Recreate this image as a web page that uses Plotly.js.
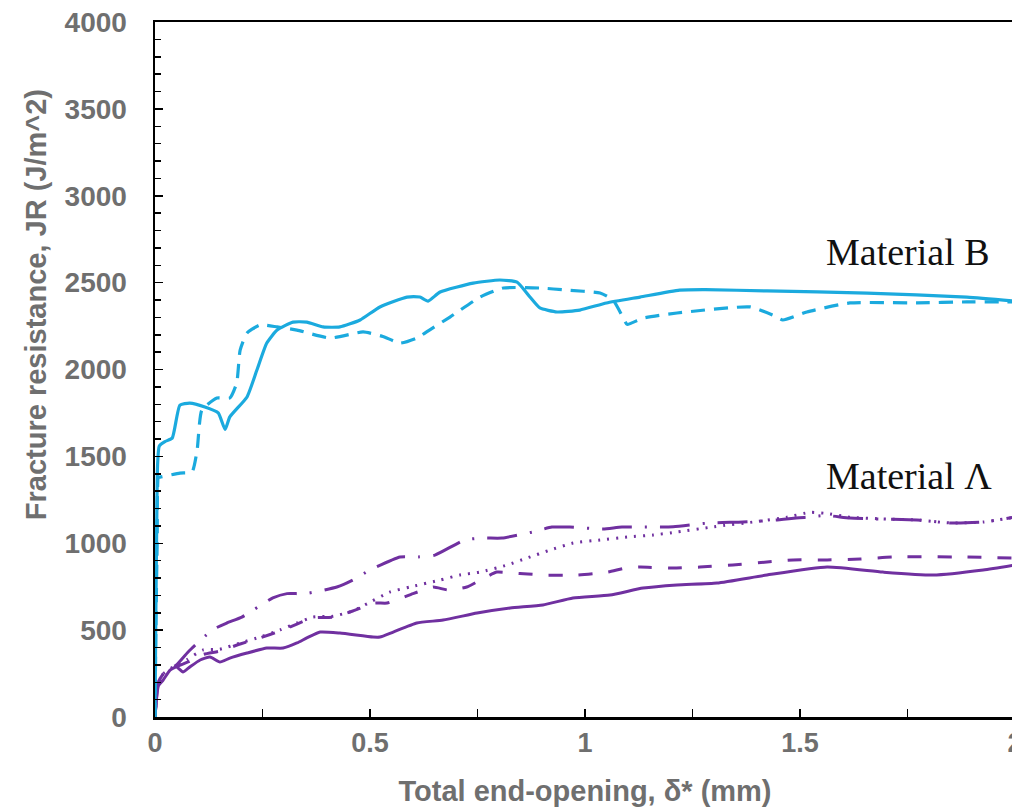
<!DOCTYPE html>
<html>
<head>
<meta charset="utf-8">
<script src="https://cdn.plot.ly/plotly-3.0.1.min.js"></script>
<style>
html,body{margin:0;padding:0;overflow:hidden;background:#fff;}
#chart{width:1040px;height:807px;}
</style>
</head>
<body>
<div id="chart"></div>
<script>
// Material B, solid
const bSolidX = [0,0.002,0.004,0.006,0.01,0.023,0.04,0.058,0.081,0.116,0.147,0.163,0.174,0.214,0.237,0.26,0.284,0.321,0.353,0.391,0.43,0.477,0.523,0.586,0.616,0.635,0.663,0.74,0.802,0.842,0.872,0.895,0.935,0.988,1.05,1.128,1.22,1.28,1.423,1.656,1.888,2.0];
const bSolidY = [0,600,1100,1450,1560,1585,1605,1795,1807,1784,1750,1655,1727,1842,1997,2152,2227,2273,2273,2245,2245,2285,2360,2417,2417,2394,2446,2497,2515,2503,2417,2354,2331,2342,2383,2417,2457,2460,2452,2440,2417,2394];
// Material B, dashed
const bDashX = [0,0.002,0.005,0.008,0.012,0.058,0.086,0.098,0.109,0.144,0.174,0.19,0.198,0.214,0.244,0.284,0.33,0.407,0.484,0.53,0.57,0.609,0.64,0.686,0.756,0.81,0.895,0.958,1.035,1.065,1.088,1.098,1.135,1.214,1.384,1.437,1.46,1.516,1.616,1.772,1.888,2.0];
const bDashY = [0,500,1000,1380,1381,1404,1410,1537,1767,1836,1836,1922,2112,2210,2256,2245,2227,2181,2216,2190,2152,2181,2230,2302,2417,2469,2469,2457,2440,2400,2302,2260,2296,2325,2360,2313,2285,2331,2383,2383,2389,2389];
// Material A, solid
const aSolidX = [0,0.008,0.019,0.035,0.05,0.065,0.081,0.105,0.128,0.151,0.174,0.214,0.26,0.298,0.33,0.353,0.384,0.43,0.507,0.523,0.554,0.609,0.67,0.749,0.826,0.902,0.972,1.058,1.135,1.214,1.307,1.423,1.563,1.693,1.809,1.926,2.0];
const aSolidY = [0,180,213,270,288,259,288,328,345,316,339,368,397,397,426,455,489,483,460,460,489,541,558,598,627,645,685,702,742,760,771,817,863,834,817,846,875];
// Material A, dashed
const aDashX = [0,0.008,0.02,0.05,0.08,0.112,0.151,0.198,0.244,0.291,0.33,0.367,0.414,0.46,0.51,0.54,0.6,0.647,0.681,0.725,0.756,0.795,0.83,0.867,0.902,0.981,1.053,1.093,1.128,1.205,1.267,1.344,1.423,1.484,1.563,1.64,1.716,1.872,2.0];
const aDashY = [0,200,250,290,320,360,380,420,455,495,535,570,575,610,656,656,710,748,731,748,788,834,829,823,817,817,834,857,863,857,863,875,892,904,904,909,921,921,915];
// Material A, dotted
const aDotX = [0,0.008,0.02,0.05,0.074,0.112,0.151,0.198,0.244,0.291,0.33,0.367,0.414,0.46,0.488,0.547,0.593,0.663,0.709,0.756,0.819,0.865,0.919,0.972,1.035,1.098,1.158,1.214,1.3,1.4,1.47,1.523,1.56,1.616,1.693,1.772,1.849,1.926,2.0];
const aDotY = [0,200,250,300,330,386,390,426,460,501,541,575,580,610,645,720,748,788,817,834,875,915,961,1001,1019,1036,1047,1065,1095,1125,1150,1178,1172,1150,1140,1134,1117,1122,1150];
// Material A, dash-dot
const aDashDotX = [0,0.008,0.02,0.05,0.077,0.133,0.167,0.202,0.274,0.307,0.349,0.423,0.46,0.5,0.57,0.612,0.651,0.72,0.763,0.807,0.879,0.923,0.965,1.042,1.086,1.205,1.29,1.367,1.447,1.516,1.56,1.616,1.693,1.772,1.849,1.926,2.0];
const aDashDotY = [0,200,250,300,374,501,541,575,685,710,710,748,788,846,921,921,932,1019,1030,1030,1065,1093,1093,1082,1093,1095,1117,1122,1134,1151,1160,1145,1139,1134,1117,1122,1151];

const xTickVals = [0,0.5,1,1.5,2];
const xTickText = ['0','0.5','1','1.5','2'];
const yTickVals = [0,500,1000,1500,2000,2500,3000,3500,4000];
const yTickText = ['0','500','1000','1500','2000','2500','3000','3500','4000'];
const labels = ['Material B','Material Λ'];

const cyan = 'rgb(27,170,222)';
const purple = 'rgb(112,48,160)';

const traces = [
  {x:aSolidX, y:aSolidY, mode:'lines', line:{color:purple, width:3, shape:'spline', smoothing:0.5}},
  {x:aDashX, y:aDashY, mode:'lines', line:{color:purple, width:3, dash:'14px,16px', shape:'spline', smoothing:0.5}},
  {x:aDotX, y:aDotY, mode:'lines', line:{color:purple, width:3, dash:'2px,7px', shape:'spline', smoothing:0.5}},
  {x:aDashDotX, y:aDashDotY, mode:'lines', line:{color:purple, width:3, dash:'30px,13px,2px,13px', shape:'spline', smoothing:0.5}},
  {x:bSolidX, y:bSolidY, mode:'lines', line:{color:cyan, width:3.2, shape:'spline', smoothing:0.5}},
  {x:bDashX, y:bDashY, mode:'lines', line:{color:cyan, width:3.2, dash:'14px,9px', shape:'spline', smoothing:0.5}}
];

const tickFontY = {family:'Liberation Sans, Arial, sans-serif', size:28, color:'#6f6f6f', weight:700};
const tickFontX = {family:'Liberation Sans Narrow, Arial Narrow, Liberation Sans, sans-serif', size:27, color:'#6f6f6f', weight:700};
const titleFontX = {family:'Liberation Sans Narrow, Arial Narrow, Liberation Sans, sans-serif', size:29, color:'#6f6f6f', weight:700};

const layout = {
  width:1040, height:807,
  margin:{l:155, r:25, t:22, b:90},
  paper_bgcolor:'#fff', plot_bgcolor:'#fff',
  showlegend:false,
  xaxis:{
    range:[0,2], tickvals:xTickVals, ticktext:xTickText,
    showgrid:false, zeroline:false,
    showline:true, linecolor:'#000', linewidth:2.5, mirror:true,
    ticks:'inside', ticklen:8, tickwidth:1.5, tickcolor:'#000',
    minor:{dtick:0.25, ticks:'inside', ticklen:8, tickwidth:1.5, tickcolor:'#000', showgrid:false},
    tickfont:tickFontX,
    title:{text:'Total end-opening, δ* (mm)', font:titleFontX, standoff:24}
  },
  yaxis:{
    range:[0,4000], tickvals:yTickVals, ticktext:yTickText,
    showgrid:false, zeroline:false,
    showline:true, linecolor:'#000', linewidth:2.5, mirror:true,
    ticks:'inside', ticklen:8, tickwidth:1.5, tickcolor:'#000',
    minor:{dtick:100, ticks:'inside', ticklen:6, tickwidth:1.5, tickcolor:'#000', showgrid:false},
    tickfont:tickFontY,
    ticklabelstandoff:20
  },
  annotations:[
    {text:'Fracture resistance, JR (J/m^2)', textangle:-90, xref:'paper', yref:'paper',
     x:-0.138, y:0.593, xanchor:'center', yanchor:'middle', showarrow:false,
     font:{family:'Liberation Sans, Arial, sans-serif', size:29, color:'#6f6f6f', weight:700}},
    {text:labels[0], x:1.555, y:2676, xref:'x', yref:'y', xanchor:'left', yanchor:'middle', showarrow:false,
     font:{family:'Liberation Serif, Times New Roman, serif', size:38, color:'#111'}},
    {text:labels[1], x:1.555, y:1387, xref:'x', yref:'y', xanchor:'left', yanchor:'middle', showarrow:false,
     font:{family:'Liberation Serif, Times New Roman, serif', size:38, color:'#111'}}
  ]
};

Plotly.newPlot('chart', traces, layout, {displayModeBar:false, staticPlot:true});
</script>
</body>
</html>
